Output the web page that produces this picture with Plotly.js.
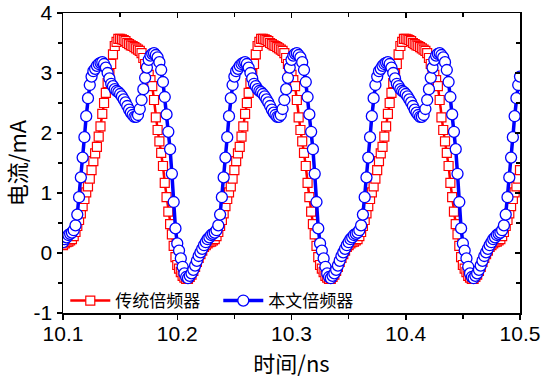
<!DOCTYPE html>
<html><head><meta charset="utf-8">
<script src="https://cdn.plot.ly/plotly-3.0.1.min.js"></script>
<style>html,body{margin:0;padding:0;background:#fff;} #chart{width:547px;height:383px;}</style>
</head><body><div id="chart"></div>
<script>
const seriesNames = ['传统倍频器', '本文倍频器'];
const tStart = 10.1;
const tStep = 0.0015625;

const conventional = [
0.13,0.16,0.18,0.19,0.21,0.23,0.28,0.35,0.45,0.55,
0.66,0.78,0.90,1.01,1.11,1.24,1.38,1.53,1.66,1.77,
1.94,2.11,2.32,2.50,2.67,2.83,2.98,3.15,3.31,3.45,
3.52,3.57,3.57,3.56,3.55,3.53,3.50,3.48,3.46,3.45,
3.43,3.41,3.39,3.37,3.33,3.25,3.15,3.06,2.97,2.88,
2.78,2.55,2.26,2.05,1.86,1.67,1.45,1.17,0.93,0.69,
0.48,0.31,0.12,-0.07,-0.20,-0.26,-0.32,-0.38,-0.41,-0.43,
-0.43,-0.40,-0.36,-0.30,-0.23,-0.15,-0.08,-0.02,0.04,0.10,
0.13,0.16,0.18,0.19,0.21,0.23,0.28,0.35,0.45,0.55,
0.66,0.78,0.90,1.01,1.11,1.24,1.38,1.53,1.66,1.77,
1.94,2.11,2.32,2.50,2.67,2.83,2.98,3.15,3.31,3.45,
3.52,3.57,3.57,3.56,3.55,3.53,3.50,3.48,3.46,3.45,
3.43,3.41,3.39,3.37,3.33,3.25,3.15,3.06,2.97,2.88,
2.78,2.55,2.26,2.05,1.86,1.67,1.45,1.17,0.93,0.69,
0.48,0.31,0.12,-0.07,-0.20,-0.26,-0.32,-0.38,-0.41,-0.43,
-0.43,-0.40,-0.36,-0.30,-0.23,-0.15,-0.08,-0.02,0.04,0.10,
0.13,0.16,0.18,0.19,0.21,0.23,0.28,0.35,0.45,0.55,
0.66,0.78,0.90,1.01,1.11,1.24,1.38,1.53,1.66,1.77,
1.94,2.11,2.32,2.50,2.67,2.83,2.98,3.15,3.31,3.45,
3.52,3.57,3.57,3.56,3.55,3.53,3.50,3.48,3.46,3.45,
3.43,3.41,3.39,3.37,3.33,3.25,3.15,3.06,2.97,2.88,
2.78,2.55,2.26,2.05,1.86,1.67,1.45,1.17,0.93,0.69,
0.48,0.31,0.12,-0.07,-0.20,-0.26,-0.32,-0.38,-0.41,-0.43,
-0.43,-0.40,-0.36,-0.30,-0.23,-0.15,-0.08,-0.02,0.04,0.10,
0.13,0.16,0.18,0.19,0.21,0.23,0.28,0.35,0.45,0.55,
0.66,0.78,0.90,1.01,1.11,1.24,1.38
];

const proposed = [
0.18,0.23,0.26,0.30,0.32,0.34,0.38,0.46,0.64,0.93,
1.26,1.59,1.93,2.28,2.58,2.80,2.94,3.03,3.07,3.12,
3.15,3.17,3.18,3.15,3.09,3.00,2.91,2.82,2.78,2.73,
2.70,2.68,2.65,2.61,2.56,2.51,2.45,2.39,2.34,2.30,
2.27,2.27,2.30,2.40,2.55,2.73,2.92,3.09,3.22,3.29,
3.32,3.33,3.30,3.26,3.18,3.05,2.85,2.60,2.31,2.02,
1.73,1.32,0.85,0.41,0.16,0.04,-0.09,-0.23,-0.34,-0.40,
-0.42,-0.38,-0.34,-0.28,-0.21,-0.13,-0.05,0.01,0.07,0.13,
0.18,0.23,0.26,0.30,0.32,0.34,0.38,0.46,0.64,0.93,
1.26,1.59,1.93,2.28,2.58,2.80,2.94,3.03,3.07,3.12,
3.15,3.17,3.18,3.15,3.09,3.00,2.91,2.82,2.78,2.73,
2.70,2.68,2.65,2.61,2.56,2.51,2.45,2.39,2.34,2.30,
2.27,2.27,2.30,2.40,2.55,2.73,2.92,3.09,3.22,3.29,
3.32,3.33,3.30,3.26,3.18,3.05,2.85,2.60,2.31,2.02,
1.73,1.32,0.85,0.41,0.16,0.04,-0.09,-0.23,-0.34,-0.40,
-0.42,-0.38,-0.34,-0.28,-0.21,-0.13,-0.05,0.01,0.07,0.13,
0.18,0.23,0.26,0.30,0.32,0.34,0.38,0.46,0.64,0.93,
1.26,1.59,1.93,2.28,2.58,2.80,2.94,3.03,3.07,3.12,
3.15,3.17,3.18,3.15,3.09,3.00,2.91,2.82,2.78,2.73,
2.70,2.68,2.65,2.61,2.56,2.51,2.45,2.39,2.34,2.30,
2.27,2.27,2.30,2.40,2.55,2.73,2.92,3.09,3.22,3.29,
3.32,3.33,3.30,3.26,3.18,3.05,2.85,2.60,2.31,2.02,
1.73,1.32,0.85,0.41,0.16,0.04,-0.09,-0.23,-0.34,-0.40,
-0.42,-0.38,-0.34,-0.28,-0.21,-0.13,-0.05,0.01,0.07,0.13,
0.18,0.23,0.26,0.30,0.32,0.34,0.38,0.46,0.64,0.93,
1.26,1.59,1.93,2.28,2.58,2.80,2.94
];

const xTickVals = [10.1, 10.2, 10.3, 10.4, 10.5];
const xTickText = ['10.1', '10.2', '10.3', '10.4', '10.5'];
const yTickVals = [-1, 0, 1, 2, 3, 4];
const yTickText = ['-1', '0', '1', '2', '3', '4'];

const time = conventional.map((_, i) => +(tStart + i * tStep).toFixed(7));

const latin = '"Liberation Sans", Arial, sans-serif';
const cjk = '"Noto Sans CJK SC", "Liberation Sans", sans-serif';

const traces = [
  {
    x: time, y: conventional, name: seriesNames[0], type: 'scatter', mode: 'lines+markers',
    line: {color: '#FF0000', width: 2.5},
    marker: {symbol: 'square', size: 9, color: '#FFFFFF', line: {color: '#FF0000', width: 1.2}},
    cliponaxis: true
  },
  {
    x: time, y: proposed, name: seriesNames[1], type: 'scatter', mode: 'lines+markers',
    line: {color: '#0000FF', width: 3.5},
    marker: {symbol: 'circle', size: 11, color: '#FFFFFF', line: {color: '#0000FF', width: 1.3}},
    cliponaxis: true
  },
  {x: [], y: [], xaxis: 'x2', yaxis: 'y2', showlegend: false, hoverinfo: 'skip', type: 'scatter', mode: 'markers'}
];

const axBase = {
  showgrid: false, zeroline: false, showline: true, linecolor: '#000', linewidth: 1.5,
  tickcolor: '#000', tickwidth: 1.5, ticklen: 5
};

const layout = {
  width: 547, height: 383,
  margin: {l: 63, r: 27, t: 13, b: 70},
  paper_bgcolor: '#FFFFFF', plot_bgcolor: '#FFFFFF',
  showlegend: true,
  xaxis: Object.assign({}, axBase, {
    range: [10.1, 10.5], tickmode: 'array', tickvals: xTickVals, ticktext: xTickText,
    ticks: 'outside', tickfont: {family: latin, size: 21, color: '#000'}, ticklabelstandoff: -4,
    minor: {tickmode: 'linear', tick0: 10.1, dtick: 0.05, ticks: 'outside', ticklen: 4, tickwidth: 1.5, tickcolor: '#000', showgrid: false},
    title: {text: '时间/ns', font: {family: cjk, size: 22, color: '#000'}, standoff: 13}
  }),
  yaxis: Object.assign({}, axBase, {
    range: [-1, 4], tickmode: 'array', tickvals: yTickVals, ticktext: yTickText,
    ticks: 'outside', tickfont: {family: latin, size: 21, color: '#000'},
    minor: {tickmode: 'linear', tick0: -1, dtick: 0.5, ticks: 'outside', ticklen: 4, tickwidth: 1.5, tickcolor: '#000', showgrid: false},
    title: {text: '电流/mA', font: {family: cjk, size: 22, color: '#000'}, standoff: 6}
  }),
  xaxis2: Object.assign({}, axBase, {
    overlaying: 'x', side: 'top', anchor: 'y', range: [10.1, 10.5],
    tickmode: 'array', tickvals: xTickVals, ticks: 'inside', showticklabels: false,
    minor: {tickmode: 'linear', tick0: 10.1, dtick: 0.05, ticks: 'inside', ticklen: 4, tickwidth: 1.5, tickcolor: '#000', showgrid: false}
  }),
  yaxis2: Object.assign({}, axBase, {
    overlaying: 'y', side: 'right', anchor: 'x', range: [-1, 4],
    tickmode: 'array', tickvals: yTickVals, ticks: 'inside', showticklabels: false,
    minor: {tickmode: 'linear', tick0: -1, dtick: 0.5, ticks: 'inside', ticklen: 4, tickwidth: 1.5, tickcolor: '#000', showgrid: false}
  }),
  legend: {
    orientation: 'h', x: 0.005, y: 0.04, xanchor: 'left', yanchor: 'middle',
    bgcolor: 'rgba(0,0,0,0)', font: {family: cjk, size: 17, color: '#000'},
    itemwidth: 40, tracegroupgap: 0, entrywidth: 98, entrywidthmode: 'pixels'
  }
};

Plotly.newPlot('chart', traces, layout, {staticPlot: true, displayModeBar: false});
</script>
</body></html>
